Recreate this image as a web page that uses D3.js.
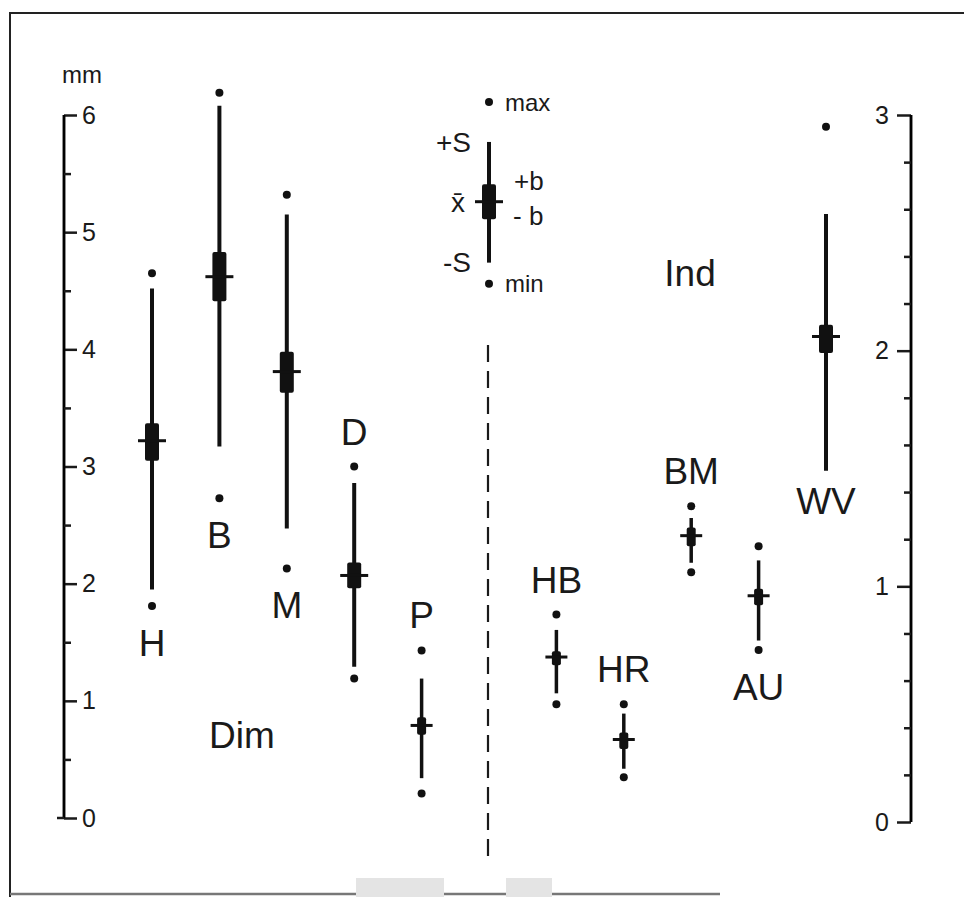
<!DOCTYPE html>
<html>
<head>
<meta charset="utf-8">
<script src="https://cdn.jsdelivr.net/npm/d3@7"></script>
<style>
  body { margin: 0; background: #fff; }
  text { font-family: "Liberation Sans", Arial, sans-serif; fill: #1a1a1a; }
</style>
</head>
<body>
<div id="chart"></div>
<script>
// groups, in drawing order ("key" is the explanation glyph in the middle)
var groups  = ["H", "B", "M", "D", "P", "key", "HB", "HR", "BM", "AU", "WV"];
var side    = ["L", "L", "L", "L", "L", "L",   "R",  "R",  "R",  "R",  "R"];
var labelAt = ["below", "below", "below", "above", "above", "", "above", "above", "above", "below", "below"];

// values (left groups in mm, right groups on the 0-3 scale)
var maxV   = [4.65, 6.19, 5.32, 3.00, 1.43, 6.11, 0.88, 0.50, 1.34, 1.17, 2.95];
var plusS  = [4.52, 6.08, 5.15, 2.86, 1.19, 5.77, 0.815, 0.46, 1.29, 1.11, 2.58];
var plusB  = [3.37, 4.83, 3.98, 2.18, 0.86, 5.41, 0.725, 0.38, 1.25, 0.99, 2.11];
var meanV  = [3.22, 4.62, 3.81, 2.07, 0.79, 5.26, 0.70, 0.35, 1.215, 0.96, 2.06];
var minusB = [3.05, 4.41, 3.63, 1.96, 0.71, 5.11, 0.665, 0.31, 1.17, 0.92, 1.99];
var minusS = [1.95, 3.17, 2.47, 1.29, 0.34, 4.74, 0.546, 0.226, 1.10, 0.77, 1.49];
var minV   = [1.81, 2.73, 2.13, 1.19, 0.21, 4.56, 0.50, 0.19, 1.06, 0.73, null];

var leftTicks  = [0, 1, 2, 3, 4, 5, 6];
var rightTicks = [0, 1, 2, 3];

var width = 964, height = 897;

var svg = d3.select("#chart").append("svg")
    .attr("width", width)
    .attr("height", height);

var x  = d3.scalePoint().domain(groups).range([152, 826]);
var yL = d3.scaleLinear().domain([0, 6]).range([818, 115]);
var yR = d3.scaleLinear().domain([0, 3]).range([822, 115]);

var data = groups.map(function(g, i) {
  return { name: g, side: side[i], lab: labelAt[i],
           max: maxV[i], ps: plusS[i], pb: plusB[i], mean: meanV[i],
           mb: minusB[i], ms: minusS[i], min: minV[i] };
});
function yOf(d) { return d.side == "L" ? yL : yR; }
// long whiskers get the heavy glyph, short ones the small one
function big(d) { return yOf(d)(d.ms) - yOf(d)(d.ps) > 120; }

// frame (scan border)
svg.append("path")
    .attr("d", "M10,897 V13 H964")
    .attr("fill", "none").attr("stroke", "#222").attr("stroke-width", 2);
svg.append("line")
    .attr("x1", 10).attr("x2", 720).attr("y1", 894).attr("y2", 894)
    .attr("stroke", "#777").attr("stroke-width", 2.5);
svg.append("rect").attr("x", 356).attr("y", 878).attr("width", 88).attr("height", 19).attr("fill", "#e4e4e4");
svg.append("rect").attr("x", 506).attr("y", 878).attr("width", 46).attr("height", 19).attr("fill", "#e4e4e4");

// left axis
var gL = svg.append("g").attr("transform", "translate(64,0)");
gL.call(d3.axisRight(yL).tickValues(leftTicks).tickFormat(d3.format("d"))
    .tickSize(13).tickSizeOuter(0).tickPadding(5));
gL.append("g").call(d3.axisRight(yL).tickValues(d3.range(0.5, 6, 1)).tickSize(7).tickFormat(""));
gL.selectAll(".domain").attr("stroke-width", 2.5);
gL.selectAll(".tick line").attr("stroke-width", 2.5).attr("stroke", "#1a1a1a");
gL.selectAll(".tick text").style("font-size", "25px").attr("fill", "#1a1a1a");
gL.append("line").attr("x1", -7).attr("x2", 0).attr("y1", yL(0)).attr("y2", yL(0))
    .attr("stroke", "#1a1a1a").attr("stroke-width", 2.5);
gL.selectAll(".domain").attr("d", "M0," + yL(0) + "V" + yL(6));
svg.append("text").attr("x", 82).attr("y", 83).attr("text-anchor", "middle")
    .style("font-size", "24px").text("mm");

// right axis
var gR = svg.append("g").attr("transform", "translate(911,0)");
gR.call(d3.axisLeft(yR).tickValues(rightTicks).tickFormat(d3.format("d"))
    .tickSize(14).tickSizeOuter(0).tickPadding(8));
gR.append("g").call(d3.axisLeft(yR).tickValues(d3.range(0.2, 3, 0.2).filter(function(v) {
  return Math.abs(v - Math.round(v)) > 0.01; })).tickSize(7).tickFormat(""));
gR.selectAll(".domain").attr("stroke-width", 2.5).attr("d", "M0," + yR(0) + "V" + yR(3));
gR.selectAll(".tick line").attr("stroke-width", 2.5).attr("stroke", "#1a1a1a");
gR.selectAll(".tick text").style("font-size", "25px").attr("fill", "#1a1a1a");

// dashed divider
svg.append("line")
    .attr("x1", 488).attr("x2", 488).attr("y1", 345).attr("y2", 862)
    .attr("stroke", "#1a1a1a").attr("stroke-width", 2.2)
    .attr("stroke-dasharray", "17,9");

// the marks
var mark = svg.selectAll(".grp").data(data).enter().append("g").attr("class", "grp");

mark.append("line")
    .attr("x1", function(d) { return x(d.name); })
    .attr("x2", function(d) { return x(d.name); })
    .attr("y1", function(d) { return yOf(d)(d.ps); })
    .attr("y2", function(d) { return yOf(d)(d.ms); })
    .attr("stroke", "#111")
    .attr("stroke-width", function(d) { return big(d) ? 4 : 3.5; });

mark.append("rect")
    .attr("x", function(d) { return x(d.name) - (big(d) ? 7 : 4.5); })
    .attr("width", function(d) { return big(d) ? 14 : 9; })
    .attr("y", function(d) { return yOf(d)(d.pb); })
    .attr("height", function(d) { return yOf(d)(d.mb) - yOf(d)(d.pb); })
    .attr("rx", 2)
    .attr("fill", "#111");

mark.append("line")
    .attr("x1", function(d) { return x(d.name) - (big(d) ? 14 : 11); })
    .attr("x2", function(d) { return x(d.name) + (big(d) ? 14 : 11); })
    .attr("y1", function(d) { return yOf(d)(d.mean); })
    .attr("y2", function(d) { return yOf(d)(d.mean); })
    .attr("stroke", "#111").attr("stroke-width", 3);

mark.filter(function(d) { return d.max != null; }).append("circle")
    .attr("cx", function(d) { return x(d.name); })
    .attr("cy", function(d) { return yOf(d)(d.max); })
    .attr("r", 4).attr("fill", "#111");

mark.filter(function(d) { return d.min != null; }).append("circle")
    .attr("cx", function(d) { return x(d.name); })
    .attr("cy", function(d) { return yOf(d)(d.min); })
    .attr("r", 4).attr("fill", "#111");

// group labels
mark.filter(function(d) { return d.lab != ""; }).append("text")
    .attr("x", function(d) { return x(d.name); })
    .attr("y", function(d) {
      var y = yOf(d);
      if (d.lab == "above") return y(d.max) - 22;
      var low = d.min != null ? d.min : d.ms;
      return y(low) + (d.min != null ? 50 : 43);
    })
    .attr("text-anchor", "middle")
    .style("font-size", "37px")
    .text(function(d) { return d.name; });

svg.append("text").attr("x", 242).attr("y", 748).attr("text-anchor", "middle")
    .style("font-size", "37px").text("Dim");
svg.append("text").attr("x", 690).attr("y", 286).attr("text-anchor", "middle")
    .style("font-size", "37px").text("Ind");

// key annotations
var k = data[5], kx = x("key");
function keyText(t, dx, v, anchor, size) {
  svg.append("text").attr("x", kx + dx).attr("y", yL(v)).attr("dy", "0.35em")
      .attr("text-anchor", anchor).style("font-size", size + "px").text(t);
}
keyText("max", 16, k.max, "start", 24);
keyText("+S", -18, k.ps, "end", 28);
keyText("+b", 25, 5.44, "start", 26);
keyText("x\u0304", -24, k.mean, "end", 28);
keyText("- b", 24, 5.14, "start", 26);
keyText("-S", -18, k.ms, "end", 28);
keyText("min", 16, k.min, "start", 24);
</script>
</body>
</html>
